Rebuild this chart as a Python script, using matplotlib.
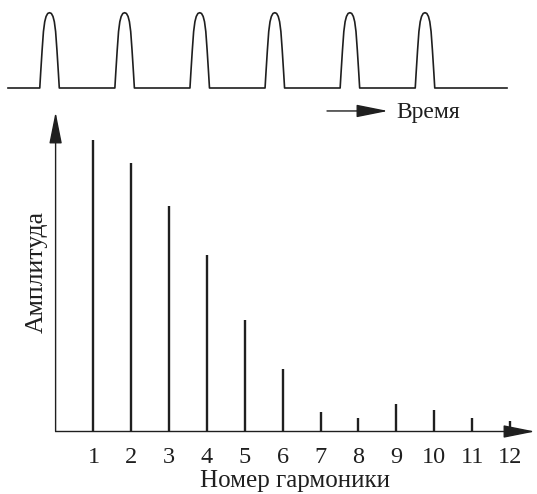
import matplotlib
matplotlib.use("Agg")
import matplotlib.pyplot as plt

plt.rcParams['font.family'] = ['Liberation Serif', 'DejaVu Serif']

# spectrum: harmonic number and relative amplitude
harmonics = [1, 2, 3, 4, 5, 6, 7, 8, 9, 10, 11, 12]
amplitudes = [1.0, 0.921, 0.774, 0.606, 0.383, 0.214, 0.068, 0.045, 0.096, 0.074, 0.046, 0.037]

# pulse train: pulse centres (in periods) and one pulse outline
pulse_centres = [0, 1, 2, 3, 4, 5]
pulse_h = [0, 0.2, 0.5, 0.75, 0.88, 0.95, 0.99, 1.0]
pulse_w = [0.130, 0.118, 0.099, 0.081, 0.064, 0.046, 0.024, 0.0]
t_start, t_end = -0.553, 6.092

ink = '#1f1f1f'
W, H = 537, 494
fig = plt.figure(figsize=(W / 100, H / 100), dpi=100)

# ---- spectrum ----
x0 = 55.6
ax = fig.add_axes([x0 / W, (H - 431.5) / H, (535 - x0) / W, (431.5 - 112) / H])
ax.patch.set_visible(False)
ax.set_xlim(0, (535 - x0) / 37.86)
ax.set_ylim(0, (431.5 - 112) / 291.5)
for s in ax.spines.values():
    s.set_visible(False)
ax.vlines(harmonics, 0, amplitudes, color=ink, lw=1.7)
ax.set_yticks([])
ax.set_xticks(harmonics)
ax.set_xticklabels([str(h) for h in harmonics], fontsize=17.5, color=ink)
ax.tick_params(axis='x', length=0, pad=11)
ax.set_xlabel('Номер гармоники', fontsize=18, color=ink)
ax.xaxis.set_label_coords(0.5, -0.12)
ax.set_ylabel('Амплитуда', fontsize=18.5, color=ink, labelpad=6)

arrow = dict(arrowstyle='-|>,head_length=1.4,head_width=0.28', color=ink, lw=1.0,
             mutation_scale=14, shrinkA=0, shrinkB=0)
ax.annotate('', xy=(1, 0), xytext=(0, 0), xycoords='axes fraction',
            annotation_clip=False, arrowprops=arrow)
ax.annotate('', xy=(0, 1), xytext=(0, 0), xycoords='axes fraction',
            annotation_clip=False, arrowprops=arrow)

# ---- waveform ----
wa = fig.add_axes([8 / W, (H - 88) / H, (507 - 8) / W, 75.3 / H])
wa.set_xlim(t_start, t_end)
wa.set_ylim(0, 1)
wa.axis('off')
tx, ty = [t_start], [0]
for c in pulse_centres:
    for w, h in zip(pulse_w, pulse_h):
        tx.append(c - w)
        ty.append(h)
    for w, h in zip(reversed(pulse_w[:-1]), reversed(pulse_h[:-1])):
        tx.append(c + w)
        ty.append(h)
tx.append(t_end)
ty.append(0)
wa.plot(tx, ty, color=ink, lw=1.2, clip_on=False, solid_joinstyle='round')
wa.annotate('', xy=(4.507, -0.305), xytext=(3.695, -0.305), xycoords='data',
            annotation_clip=False, arrowprops=arrow)
wa.text(4.613, -0.33, 'Время', fontsize=17, color=ink, va='center', ha='left',
        clip_on=False)

fig.savefig('out.png', dpi=100)
